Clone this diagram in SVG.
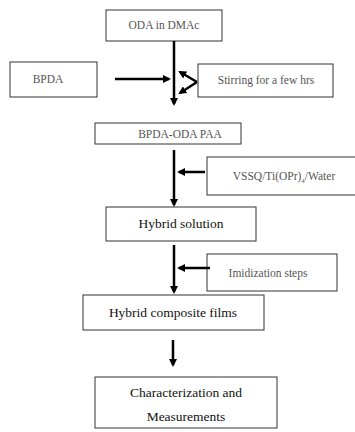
<svg xmlns="http://www.w3.org/2000/svg" width="355" height="432" viewBox="0 0 355 432">
<defs>
<marker id="ah" markerWidth="8" markerHeight="8" refX="6" refY="4" orient="auto" markerUnits="userSpaceOnUse"><path d="M0,0 L8,4 L0,8 Z" fill="#000"/></marker>
</defs>
<style>
.box{fill:#fff;stroke:#333;stroke-width:1}
.t{font-family:'Liberation Serif','DejaVu Serif',serif;fill:#222;text-anchor:middle}
.g{fill:#555;font-size:11.5px}
.k{font-size:13.5px;fill:#111}
.c{stroke:#000;stroke-width:2.5;fill:none}
</style>
<rect width="355" height="432" fill="#fff"/>
<g id="n_oda"><rect class="box" x="106" y="10" width="116" height="31"/><text class="t g" font-family="Liberation Serif, serif" x="164" y="29">ODA in DMAc</text></g>
<g id="n_bpda"><rect class="box" x="10" y="62" width="87" height="35"/><text class="t g" font-family="Liberation Serif, serif" x="48" y="83">BPDA</text></g>
<g id="n_stir"><rect class="box" x="198" y="64" width="135" height="33"/><text class="t g" font-family="Liberation Serif, serif" x="266" y="84">Stirring for a few hrs</text></g>
<g id="n_paa"><rect class="box" x="95" y="123" width="146" height="21"/><text class="t g" font-family="Liberation Serif, serif" x="180" y="138">BPDA-ODA PAA</text></g>
<g id="n_vssq"><rect class="box" x="207" y="157" width="150" height="38"/><text class="t g" font-family="Liberation Serif, serif" x="284" y="180">VSSQ/Ti(OPr)<tspan font-size="7" dy="3">4</tspan><tspan dy="-3">/Water</tspan></text></g>
<g id="n_hyb"><rect class="box" x="106" y="207" width="150" height="34"/><text class="t k" font-family="Liberation Serif, serif" x="181" y="228">Hybrid solution</text></g>
<g id="n_imid"><rect class="box" x="207" y="254" width="130" height="37"/><text class="t g" font-family="Liberation Serif, serif" x="268" y="277">Imidization steps</text></g>
<g id="n_film"><rect class="box" x="83" y="295" width="181" height="35"/><text class="t k" font-family="Liberation Serif, serif" x="173" y="317">Hybrid composite films</text></g>
<g id="n_char"><rect class="box" x="95" y="377" width="182" height="51"/><text class="t k" font-family="Liberation Serif, serif" x="186" y="397">Characterization and</text><text class="t k" font-family="Liberation Serif, serif" x="186" y="421">Measurements</text></g>
<g id="connectors">
<line class="c" x1="174" y1="41" x2="174" y2="104" marker-end="url(#ah)"/>
<line class="c" x1="115" y1="79" x2="169" y2="79" marker-end="url(#ah)"/>
<line class="c" x1="197" y1="82" x2="180" y2="72" marker-end="url(#ah)"/>
<line class="c" x1="197" y1="82" x2="180" y2="93" marker-end="url(#ah)"/>
<line class="c" x1="174" y1="150" x2="174" y2="205" marker-end="url(#ah)"/>
<line class="c" x1="205" y1="172" x2="179" y2="172" marker-end="url(#ah)"/>
<line class="c" x1="174" y1="245" x2="174" y2="292" marker-end="url(#ah)"/>
<line class="c" x1="210" y1="268" x2="179" y2="268" marker-end="url(#ah)"/>
<line class="c" x1="173" y1="340" x2="173" y2="365" marker-end="url(#ah)"/>
</g>
</svg>
